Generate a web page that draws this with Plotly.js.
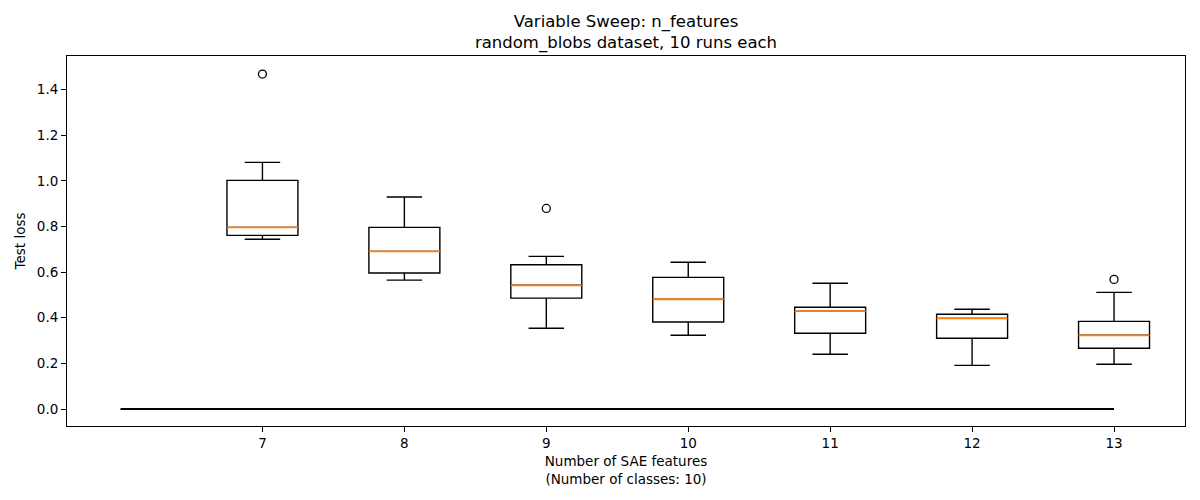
<!DOCTYPE html>
<html>
<head>
<meta charset="utf-8">
<script src="https://cdn.plot.ly/plotly-3.0.1.min.js"></script>
<style>html,body{margin:0;padding:0;background:#fff;}#chart{width:1200px;height:500px;}</style>
</head>
<body>
<div id="chart"></div>
<script>
// n_features values (box positions)
const nFeatures = [7, 8, 9, 10, 11, 12, 13];
// precomputed box statistics (test loss)
const lowerWhisker = [0.744, 0.565, 0.354, 0.323, 0.240, 0.191, 0.196];
const q1Values     = [0.761, 0.596, 0.486, 0.381, 0.332, 0.310, 0.266];
const medianValues = [0.796, 0.691, 0.542, 0.481, 0.429, 0.397, 0.323];
const q3Values     = [1.002, 0.796, 0.632, 0.577, 0.446, 0.415, 0.384];
const upperWhisker = [1.081, 0.929, 0.669, 0.643, 0.551, 0.437, 0.511];
// outliers
const outlierX = [7, 9, 13];
const outlierY = [1.468, 0.879, 0.568];
// zero baseline
const baselineX = [6, 7, 8, 9, 10, 11, 12, 13];
const baselineY = [0, 0, 0, 0, 0, 0, 0, 0];
const tickVals = [7, 8, 9, 10, 11, 12, 13];
const tickText = ['7', '8', '9', '10', '11', '12', '13'];

const font = {family: 'DejaVu Sans', size: 13.5, color: '#000'};

const traces = [
  {
    type: 'scatter', mode: 'lines', x: baselineX, y: baselineY,
    line: {color: '#000', width: 2}, hoverinfo: 'skip', showlegend: false
  },
  {
    // box outline and whiskers
    type: 'box', x: nFeatures, q1: q1Values, median: medianValues, q3: q3Values,
    lowerfence: lowerWhisker, upperfence: upperWhisker,
    width: 0.5, whiskerwidth: 0.5, boxpoints: false,
    line: {color: '#000', width: 1.4}, fillcolor: 'rgba(255,255,255,0)',
    showlegend: false
  },
  {
    // orange median lines drawn on top
    type: 'box', x: nFeatures, q1: medianValues, median: medianValues, q3: medianValues,
    lowerfence: medianValues, upperfence: medianValues,
    width: 0.5, whiskerwidth: 0, boxpoints: false,
    line: {color: '#ff7f0e', width: 1.8}, fillcolor: 'rgba(255,255,255,0)',
    showlegend: false
  },
  {
    type: 'scatter', mode: 'markers', x: outlierX, y: outlierY,
    marker: {symbol: 'circle-open', size: 8, color: '#000', line: {width: 1.3, color: '#000'}},
    showlegend: false
  }
];

const layout = {
  width: 1200, height: 500,
  margin: {l: 67, r: 15, t: 56, b: 74},
  paper_bgcolor: '#fff', plot_bgcolor: '#fff',
  font: font,
  boxmode: 'overlay',
  title: {
    text: 'Variable Sweep: n_features<br>random_blobs dataset, 10 runs each',
    font: {family: 'DejaVu Sans', size: 16.5, color: '#000'},
    x: 0.5, xref: 'paper', y: 0.947, yref: 'container', yanchor: 'top'
  },
  xaxis: {
    range: [5.623, 13.5], tickvals: tickVals, ticktext: tickText,
    showgrid: false, zeroline: false, showline: true, mirror: true,
    linecolor: '#000', linewidth: 1, ticks: 'outside', ticklen: 5, tickwidth: 1, tickcolor: '#000',
    tickfont: font,
    title: {text: 'Number of SAE features<br>(Number of classes: 10)', font: font, standoff: 6}
  },
  yaxis: {
    range: [-0.0745, 1.547], tickvals: [0, 0.2, 0.4, 0.6, 0.8, 1.0, 1.2, 1.4],
    ticktext: ['0.0', '0.2', '0.4', '0.6', '0.8', '1.0', '1.2', '1.4'],
    showgrid: false, zeroline: false, showline: true, mirror: true,
    linecolor: '#000', linewidth: 1, ticks: 'outside', ticklen: 5, tickwidth: 1, tickcolor: '#000',
    tickfont: font,
    title: {text: 'Test loss', font: font, standoff: 8}
  }
};

Plotly.newPlot('chart', traces, layout, {displayModeBar: false, staticPlot: true});
</script>
</body>
</html>
